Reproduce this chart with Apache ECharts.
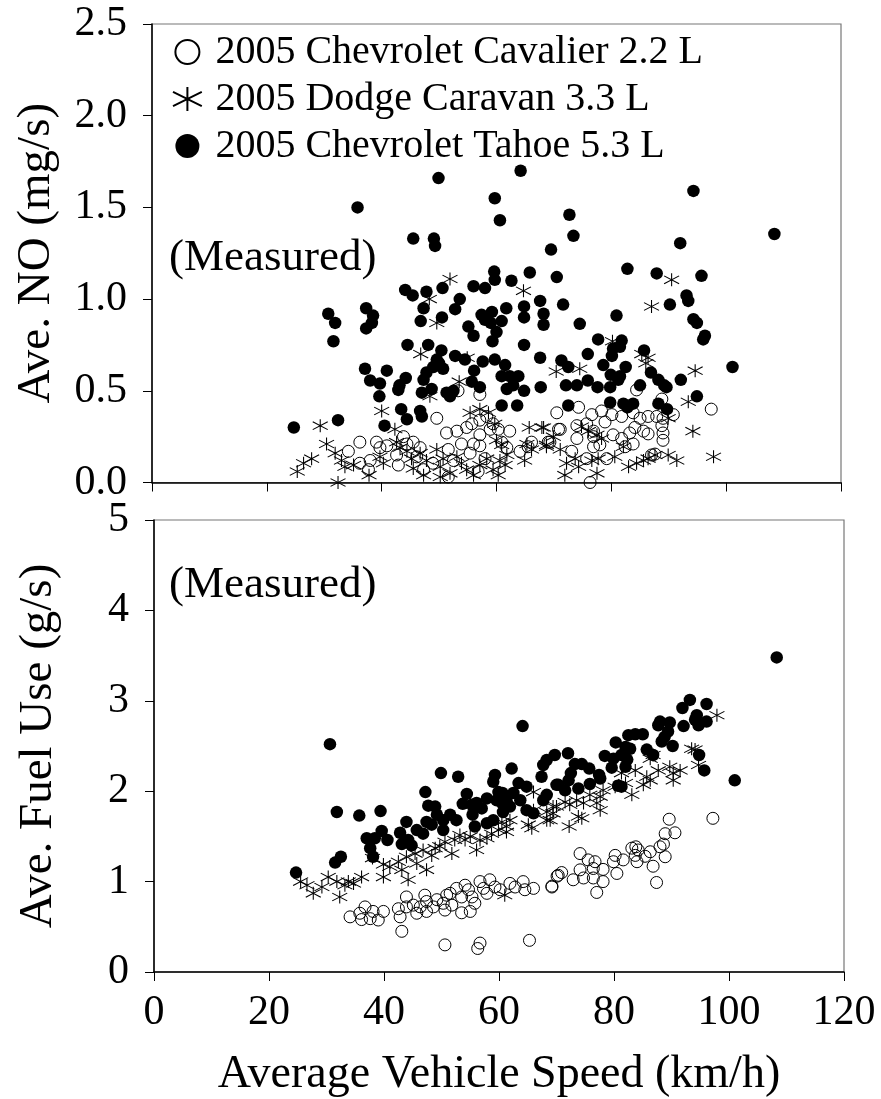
<!DOCTYPE html>
<html>
<head>
<meta charset="utf-8">
<script src="https://cdn.jsdelivr.net/npm/echarts@6/dist/echarts.min.js"></script>
<style>
  html, body { margin: 0; padding: 0; background: #fff; }
  #chart { width: 881px; height: 1099px; }
</style>
</head>
<body>
<div id="chart"></div>
<script>
// speed (km/h), value pairs
const seriesNames = ['2005 Chevrolet Cavalier 2.2 L', '2005 Dodge Caravan 3.3 L', '2005 Chevrolet Tahoe 5.3 L']
const speedTicks = [0, 20, 40, 60, 80, 100, 120]

const cavalierNO = [
  [57.1,0.48],[53.3,0.50],[49.6,0.35],[34.2,0.17],[36.2,0.22],[38.0,0.12],[36.2,0.105],[37.7,0.07],
  [39.1,0.22],[39.7,0.19],[40.9,0.20],[42.6,0.15],[42.9,0.095],[43.8,0.25],[44.4,0.21],[45.5,0.22],
  [46.7,0.19],[46.1,0.14],[47.3,0.07],[48.9,0.105],[51.3,0.27],[53.1,0.28],[53.9,0.21],[51.6,0.18],
  [52.5,0.12],[51.6,0.03],[54.8,0.30],[55.7,0.32],[57.1,0.34],[58.3,0.36],[58.9,0.29],[57.1,0.26],
  [56.0,0.21],[55.4,0.16],[57.1,0.20],[58.0,0.13],[56.8,0.06],[59.4,0.32],[60.3,0.29],[62.3,0.28],
  [60.9,0.22],[61.8,0.19],[64.1,0.17],[65.5,0.195],[66.1,0.22],[69.0,0.22],
  [70.5,0.38],[74.3,0.41],[97.4,0.40],[84.4,0.505],[88.8,0.455],[76.6,0.37],[78.3,0.39],[80.1,0.37],
  [81.8,0.36],[83.8,0.38],[85.0,0.35],[86.4,0.36],[87.9,0.36],[89.0,0.35],[90.8,0.37],[71.1,0.29],
  [74.0,0.31],[75.7,0.32],[78.9,0.33],[76.9,0.28],[84.1,0.30],[85.6,0.28],[86.4,0.265],[88.8,0.31],
  [89.0,0.27],[89.0,0.23],[74.0,0.24],[76.9,0.25],[80.3,0.26],[81.8,0.24],[83.2,0.27],[83.8,0.21],
  [82.4,0.195],[78.0,0.205],[76.9,0.195],[75.7,0.13],[79.2,0.13],[73.1,0.17],[69.3,0.22],[87.0,0.15],
  [87.6,0.155],[76.3,0.0],[70.8,0.29]
]
const caravanNO = [
  [51.9,1.11],[64.7,1.045],[48.3,1.00],[49.6,0.87],[46.8,0.70],[54.9,0.68],[53.5,0.55],[48.4,0.47],
  [40.0,0.39],[29.3,0.31],[30.4,0.21],[27.8,0.13],[26.4,0.105],[25.3,0.06],[32.4,0.0],[31.9,0.16],
  [33.0,0.12],[33.6,0.086],[35.1,0.095],[37.8,0.04],[39.7,0.14],[40.3,0.105],[42.3,0.29],[42.6,0.22],
  [43.2,0.19],[44.4,0.17],[45.2,0.13],[46.7,0.16],[47.8,0.12],[45.5,0.077],[47.3,0.04],[49.6,0.18],
  [50.7,0.13],[50.2,0.086],[51.9,0.05],[50.2,0.03],[53.1,0.14],[53.9,0.105],[54.8,0.07],[56.0,0.04],
  [57.1,0.095],[58.3,0.13],[59.4,0.07],[60.3,0.04],[55.4,0.38],[57.1,0.40],[58.6,0.38],[59.7,0.32],
  [60.0,0.23],[60.9,0.205],[60.6,0.12],[61.5,0.095],[61.8,0.15],[65.7,0.30],[67.9,0.30],[65.3,0.21],
  [66.1,0.18],[64.9,0.12],[68.7,0.195],
  [90.5,1.105],[87.0,0.96],[80.2,0.77],[85.3,0.70],[86.4,0.68],[86.0,0.65],[70.4,0.605],[74.5,0.62],
  [94.6,0.61],[93.4,0.44],[89.9,0.35],[94.2,0.28],[97.8,0.14],[68.2,0.30],[69.9,0.25],[68.7,0.205],
  [71.1,0.18],[72.2,0.105],[71.9,0.04],[73.7,0.13],[74.3,0.086],[74.8,0.305],[76.0,0.28],[77.5,0.26],
  [78.3,0.24],[76.6,0.12],[77.7,0.13],[77.5,0.05],[80.6,0.14],[82.1,0.195],[83.0,0.086],[84.4,0.105],
  [85.6,0.12],[86.4,0.13],[87.6,0.15],[89.9,0.15],[91.4,0.12]
]
const tahoeNO = [
  [49.9,1.66],[64.2,1.70],[35.8,1.50],[59.7,1.55],[60.6,1.43],[45.5,1.33],[49.1,1.33],[49.3,1.29],
  [69.5,1.27],[44.1,1.05],[45.4,1.02],[47.8,1.04],[47.3,0.95],[50.6,1.06],[53.6,1.00],[52.8,0.945],
  [56.0,1.07],[58.0,1.06],[59.6,1.15],[59.7,1.105],[62.6,1.10],[65.8,1.145],[67.6,0.99],[68.2,0.92],
  [68.2,0.86],[30.7,0.92],[31.9,0.87],[31.6,0.77],[37.3,0.95],[38.5,0.91],[38.3,0.87],[37.3,0.84],
  [46.8,0.88],[50.5,0.90],[57.4,0.914],[59.2,0.93],[58.0,0.887],[59.0,0.87],[60.9,0.88],[60.0,0.82],
  [61.7,0.95],[55.1,0.85],[56.0,0.80],[59.3,0.77],[64.8,0.96],[64.8,0.90],[64.8,0.75],[44.5,0.75],
  [48.1,0.75],[50.4,0.72],[49.6,0.67],[49.0,0.63],[50.7,0.62],[47.8,0.60],[50.0,0.65],[52.8,0.69],
  [54.5,0.67],[57.6,0.66],[59.7,0.67],[61.5,0.64],[67.6,0.68],[37.1,0.62],[40.9,0.61],[38.0,0.556],
  [39.7,0.54],[39.6,0.47],[44.2,0.57],[43.1,0.53],[42.9,0.505],[47.3,0.56],[47.0,0.49],[48.7,0.51],
  [51.3,0.49],[52.5,0.50],[51.9,0.47],[55.7,0.55],[57.1,0.52],[56.1,0.61],[60.9,0.58],[62.3,0.58],
  [63.8,0.58],[62.9,0.53],[61.8,0.51],[64.8,0.50],[67.7,0.52],[60.9,0.42],[63.6,0.42],[43.4,0.40],
  [46.7,0.39],[47.0,0.36],[44.4,0.345],[40.5,0.31],[32.4,0.34],[24.7,0.30],
  [94.3,1.59],[72.7,1.46],[73.4,1.345],[92.0,1.305],[108.4,1.355],[82.8,1.165],[87.9,1.14],[95.7,1.127],
  [70.5,1.12],[71.6,0.97],[90.2,0.97],[93.1,1.02],[93.4,0.99],[80.9,0.91],[74.5,0.865],[94.3,0.89],
  [94.9,0.87],[96.3,0.80],[96.0,0.78],[77.7,0.78],[81.8,0.774],[80.3,0.73],[81.5,0.74],[80.1,0.69],
  [75.9,0.70],[85.7,0.72],[71.3,0.665],[72.5,0.63],[78.6,0.64],[82.5,0.63],[86.9,0.60],[79.9,0.587],
  [81.5,0.58],[81.2,0.56],[88.2,0.56],[89.2,0.53],[89.6,0.52],[92.1,0.56],[101.1,0.63],[72.1,0.53],
  [74.0,0.53],[75.9,0.556],[77.6,0.52],[79.8,0.52],[85.0,0.53],[94.9,0.47],[72.5,0.42],[79.8,0.436],
  [82.1,0.43],[82.8,0.41],[83.8,0.43],[88.2,0.43],[89.7,0.40]
]

const cavalierFuel = [
  [34.1,0.61],[35.8,0.65],[36.7,0.72],[38.1,0.67],[37.6,0.59],[39.0,0.575],[39.9,0.67],[36.1,0.58],
  [43.1,0.45],[42.5,0.70],[42.8,0.61],[43.9,0.83],[43.9,0.72],[45.1,0.74],[45.7,0.65],[46.3,0.72],
  [47.1,0.85],[47.4,0.78],[47.4,0.67],[48.6,0.72],[49.2,0.80],[50.3,0.76],[50.9,0.85],[50.6,0.685],
  [51.8,0.74],[51.5,0.87],[52.6,0.925],[53.5,0.83],[53.5,0.655],[54.7,0.91],[55.3,0.83],[55.0,0.67],
  [56.7,1.00],[57.3,0.925],[57.9,0.87],[58.4,1.02],[59.3,0.94],[60.2,0.91],[61.9,0.98],[62.8,0.94],
  [64.2,1.00],[64.5,0.91],[66.0,0.925],[69.2,0.94],[70.3,1.07],[54.1,0.96],[55.8,0.76],
  [50.6,0.30],[56.7,0.32],[56.3,0.26],[65.3,0.35],
  [97.2,1.70],[89.6,1.69],[88.9,1.53],[90.6,1.54],[88.6,1.415],[88.0,1.385],[88.9,1.275],[86.8,1.17],
  [87.4,0.99],[83.1,1.37],[83.8,1.385],[84.2,1.35],[83.7,1.29],[85.4,1.28],[86.3,1.33],[84.0,1.22],
  [80.2,1.29],[81.6,1.24],[79.9,1.22],[80.5,1.09],[78.1,1.135],[76.4,1.145],[76.7,1.22],[75.5,1.24],
  [74.1,1.31],[74.1,1.13],[74.7,1.04],[76.4,1.04],[78.1,1.00],[72.9,1.02],[70.9,1.10],[70.1,1.06],
  [69.2,0.95],[77.0,0.88]
]
const caravanFuel = [
  [25.5,1.00],[26.6,0.96],[27.7,0.87],[29.2,0.94],[30.3,1.05],[31.8,1.00],[32.3,0.83],[33.2,0.96],
  [33.8,1.00],[34.7,0.98],[36.1,1.05],[38.0,1.26],[39.9,1.19],[39.9,1.05],[41.0,1.165],[42.5,1.22],
  [43.1,1.13],[44.2,1.02],[43.9,1.275],[45.4,1.31],[45.7,1.20],[46.8,1.35],[47.4,1.13],[48.3,1.29],
  [48.9,1.37],[49.7,1.39],[50.6,1.44],[51.8,1.31],[52.3,1.46],[53.2,1.515],[54.1,1.46],[55.0,1.50],
  [56.1,1.35],[56.7,1.46],[57.9,1.48],[58.7,1.53],[59.9,1.57],[60.5,1.66],[61.3,1.61],[61.9,1.68],
  [61.3,1.55],[65.1,1.63],[65.7,1.59],[66.0,1.79],[68.3,1.77],[69.4,1.83],[68.3,1.68],[66.0,1.99],
  [61.0,0.85],
  [97.9,2.84],[93.5,2.47],[94.1,2.46],[94.7,2.29],[86.8,2.40],[86.3,2.36],[83.7,2.23],[85.7,2.16],
  [86.3,2.12],[87.7,2.23],[89.7,2.27],[90.3,2.20],[91.5,2.23],[90.3,2.12],[85.1,2.07],[83.1,1.96],
  [81.3,2.20],[82.0,2.09],[80.2,2.05],[78.1,2.01],[77.6,1.94],[75.8,1.96],[77.0,1.87],[77.6,1.79],
  [74.7,1.87],[73.5,1.90],[72.3,1.85],[71.5,1.88],[70.0,1.83],[69.4,1.755],[72.2,1.61],[73.8,1.72],
  [74.4,1.70],[68.9,1.68]
]
const tahoeFuel = [
  [30.6,2.52],[64.1,2.72],[24.7,1.10],[31.8,1.77],[31.5,1.21],[32.5,1.275],[35.7,1.73],[39.4,1.78],
  [37.0,1.48],[38.4,1.48],[37.6,1.37],[38.1,1.275],[39.6,1.56],[40.6,1.46],[42.8,1.54],[43.1,1.415],
  [43.9,1.66],[44.2,1.46],[45.7,1.57],[44.8,1.40],[47.2,1.99],[47.4,1.66],[47.7,1.84],[48.9,1.83],
  [46.8,1.53],[48.3,1.63],[49.2,1.74],[50.3,1.68],[50.3,1.57],[51.5,1.74],[52.6,1.68],[49.9,2.20],
  [52.9,2.16],[54.4,1.97],[53.7,1.86],[55.3,1.85],[55.4,1.74],[56.1,1.87],[57.0,1.81],[57.9,1.92],
  [55.8,1.61],[57.9,1.645],[59.0,1.68],[59.3,2.18],[59.0,2.105],[59.9,1.99],[60.6,1.98],[59.6,1.90],
  [60.5,1.87],[61.3,1.90],[61.9,1.83],[60.7,1.77],[62.5,1.98],[63.4,2.09],[64.8,2.05],[63.7,1.90],
  [64.8,1.79],[66.0,1.755],[62.2,2.25],[67.4,2.16],[67.7,2.29],[68.3,2.345],[69.7,2.40],[70.0,2.07],
  [67.7,1.90],[68.3,1.96],
  [108.3,3.48],[101.0,2.12],[93.2,3.01],[96.1,2.965],[91.9,2.92],[94.4,2.84],[94.1,2.79],[96.1,2.77],
  [94.7,2.73],[92.1,2.72],[88.0,2.77],[89.7,2.76],[87.7,2.73],[89.4,2.66],[88.8,2.60],[88.3,2.55],
  [90.2,2.50],[82.5,2.62],[83.7,2.63],[85.0,2.63],[80.3,2.54],[82.0,2.49],[82.8,2.47],[81.3,2.40],
  [82.3,2.35],[79.9,2.36],[78.4,2.39],[79.6,2.26],[82.0,2.27],[85.7,2.46],[86.8,2.40],[94.8,2.40],
  [95.7,2.23],[72.0,2.42],[73.2,2.30],[74.4,2.30],[75.7,2.25],[72.5,2.20],[72.1,2.12],[77.4,2.18],
  [77.6,2.14],[70.3,2.07],[71.5,2.01],[73.8,2.03],[75.8,2.08],[80.7,2.06],[81.3,2.05]
]

const font = "'Liberation Serif', 'Times New Roman', serif"
const starPath = 'path://M12,0L12,20M0,4L24,16M0,16L24,4'

const chart = echarts.init(document.getElementById('chart'))

const xAxisBase = (gridIndex, showLabels) => ({
  type: 'value',
  gridIndex: gridIndex,
  min: speedTicks[0],
  max: speedTicks[speedTicks.length - 1],
  interval: speedTicks[1] - speedTicks[0],
  splitLine: { show: false },
  axisLine: { onZero: false, lineStyle: { color: '#000', width: 1.5 } },
  axisTick: { inside: false, length: 9, lineStyle: { color: '#000', width: 1 } },
  axisLabel: {
    show: showLabels,
    color: '#000',
    fontFamily: font,
    fontSize: 42,
    margin: 20,
    showMaxLabel: true,
    showMinLabel: true
  }
})

const yAxisBase = (gridIndex, max, interval, digits, name) => ({
  type: 'value',
  gridIndex: gridIndex,
  min: 0,
  max: max,
  interval: interval,
  name: name,
  nameLocation: 'middle',
  nameGap: 92,
  nameRotate: 90,
  nameTextStyle: { color: '#000', fontFamily: font, fontSize: 47 },
  splitLine: { show: false },
  axisLine: { onZero: false, lineStyle: { color: '#000', width: 1.5 } },
  axisTick: { inside: false, length: 9, lineStyle: { color: '#000', width: 1 } },
  axisLabel: {
    color: '#000',
    fontFamily: font,
    fontSize: 42,
    margin: 25,
    formatter: (v) => v.toFixed(digits)
  }
})

// scatter defaults to 0.8 opacity, the original marks are solid black
const cavalierStyle = {
  symbol: 'circle',
  symbolSize: 12,
  itemStyle: { color: 'transparent', borderColor: '#000', borderWidth: 1, opacity: 1 }
}
const caravanStyle = {
  symbol: starPath,
  symbolSize: [15, 13],
  itemStyle: { color: 'transparent', borderColor: '#000', borderWidth: 1, opacity: 1 }
}
const tahoeStyle = {
  symbol: 'circle',
  symbolSize: 12.5,
  itemStyle: { color: '#000', borderColor: '#000', borderWidth: 0, opacity: 1 }
}

const makeSeries = (name, data, style, idx) => Object.assign({
  name: name,
  type: 'scatter',
  xAxisIndex: idx,
  yAxisIndex: idx,
  data: data,
  emphasis: { disabled: true }
}, style)

const option = {
  animation: false,
  backgroundColor: '#fff',
  grid: [
    { left: 152, top: 24, width: 689, height: 458.5, show: true, borderColor: '#777', borderWidth: 1.2 },
    { left: 154, top: 520, width: 690, height: 452, show: true, borderColor: '#777', borderWidth: 1.2 }
  ],
  xAxis: [
    xAxisBase(0, false),
    Object.assign(xAxisBase(1, true), {
      name: 'Average Vehicle Speed (km/h)',
      nameLocation: 'middle',
      nameGap: 80,
      nameTextStyle: { color: '#000', fontFamily: font, fontSize: 46 }
    })
  ],
  yAxis: [
    yAxisBase(0, 2.5, 0.5, 1, 'Ave. NO (mg/s)'),
    yAxisBase(1, 5, 1, 0, 'Ave. Fuel Use (g/s)')
  ],
  legend: {
    orient: 'vertical',
    left: 167,
    top: 27,
    itemWidth: 46,
    itemHeight: 24,
    itemGap: 7,
    data: seriesNames,
    textStyle: { color: '#000', fontFamily: font, fontSize: 40, lineHeight: 40 }
  },
  graphic: [
    {
      type: 'text', left: 169, top: 236,
      style: { text: '(Measured)', font: '45px ' + font, fill: '#000' }
    },
    {
      type: 'text', left: 169, top: 563,
      style: { text: '(Measured)', font: '45px ' + font, fill: '#000' }
    }
  ],
  series: [
    makeSeries(seriesNames[0], cavalierNO, cavalierStyle, 0),
    makeSeries(seriesNames[1], caravanNO, caravanStyle, 0),
    makeSeries(seriesNames[2], tahoeNO, tahoeStyle, 0),
    makeSeries(seriesNames[0], cavalierFuel, cavalierStyle, 1),
    makeSeries(seriesNames[1], caravanFuel, caravanStyle, 1),
    makeSeries(seriesNames[2], tahoeFuel, tahoeStyle, 1)
  ]
}

chart.setOption(option)
</script>
</body>
</html>
